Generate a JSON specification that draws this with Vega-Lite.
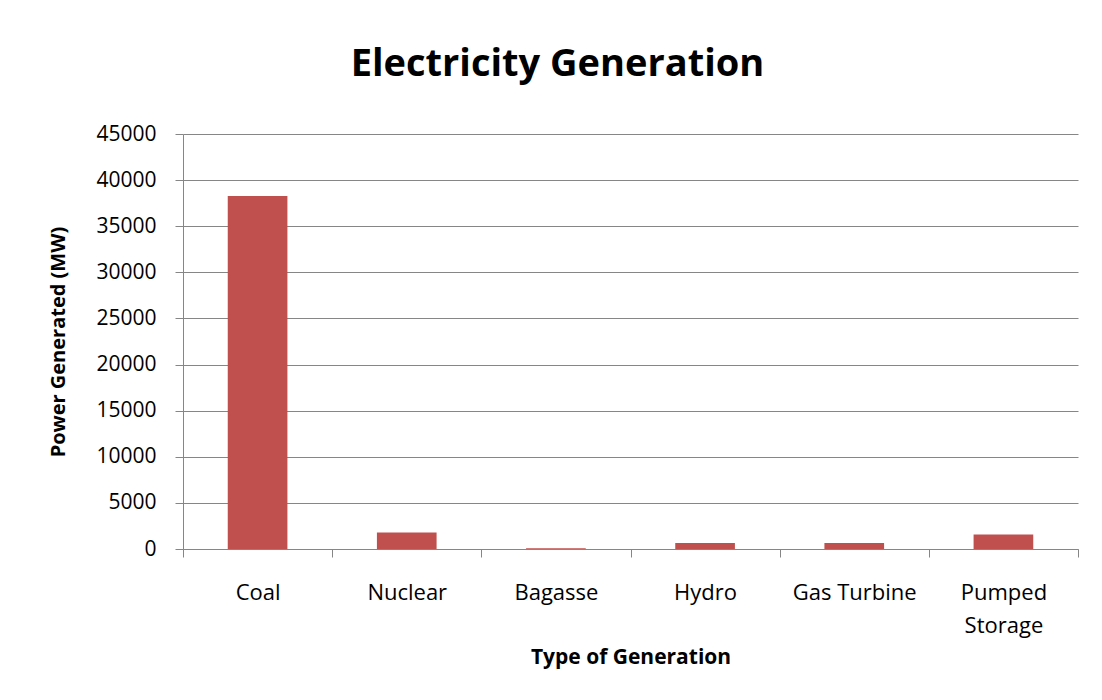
{
  "$schema": "https://vega.github.io/schema/vega-lite/v6.json",
  "width": 895,
  "height": 415,
  "autosize": {"type": "none"},
  "padding": {"left": 183, "top": 134, "right": 24, "bottom": 151},
  "background": "white",
  "title": {
    "text": "Electricity Generation",
    "font": "Open Sans",
    "fontSize": 38,
    "fontWeight": "bold",
    "color": "black",
    "anchor": "middle",
    "baseline": "alphabetic",
    "offset": 9,
    "dx": -73
  },
  "data": {
    "values": [
      {"type": "Coal", "mw": 38280},
      {"type": "Nuclear", "mw": 1800},
      {"type": "Bagasse", "mw": 80},
      {"type": "Hydro", "mw": 650},
      {"type": "Gas Turbine", "mw": 650},
      {"type": "Pumped Storage", "mw": 1580}
    ]
  },
  "mark": {"type": "bar", "color": "#C0504D", "width": {"band": 0.4}},
  "encoding": {
    "x": {
      "field": "type",
      "type": "nominal",
      "sort": null,
      "scale": {"paddingInner": 0, "paddingOuter": 0},
      "axis": {
        "title": "Type of Generation",
        "titleFont": "Open Sans",
        "titleFontSize": 21,
        "titleFontWeight": "bold",
        "titleColor": "black",
        "titlePadding": 10,
        "labelAngle": 0,
        "labelFont": "Open Sans",
        "labelFontSize": 22,
        "labelColor": "black",
        "labelPadding": 25,
        "labelLineHeight": 33,
        "labelExpr": "datum.label == 'Pumped Storage' ? ['Pumped', 'Storage'] : datum.label",
        "tickBand": "extent",
        "tickSize": 8,
        "tickColor": "#868686",
        "domainColor": "#868686",
        "grid": false
      }
    },
    "y": {
      "field": "mw",
      "type": "quantitative",
      "scale": {"domain": [0, 45000], "nice": false},
      "axis": {
        "title": "Power Generated (MW)",
        "titleFont": "Open Sans",
        "titleFontSize": 20,
        "titleFontWeight": "bold",
        "titleColor": "black",
        "titlePadding": 27,
        "values": [0, 5000, 10000, 15000, 20000, 25000, 30000, 35000, 40000, 45000],
        "format": "d",
        "labelFont": "Open Sans",
        "labelFontSize": 21,
        "labelColor": "black",
        "labelPadding": 19,
        "tickSize": 8,
        "tickColor": "#868686",
        "domainColor": "#868686",
        "grid": true,
        "gridColor": "#868686",
        "gridWidth": 1
      }
    }
  },
  "config": {"view": {"stroke": null}}
}
